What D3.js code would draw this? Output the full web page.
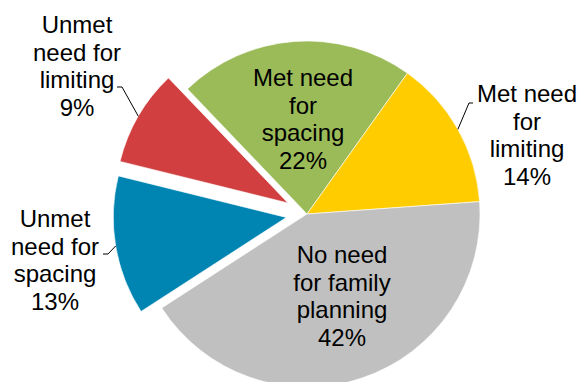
<!DOCTYPE html>
<html><head><meta charset="utf-8">
<script src="https://cdn.jsdelivr.net/npm/d3@7"></script>
<style>html,body{margin:0;padding:0;background:#fff;overflow:hidden}</style>
</head><body>
<svg id="chart" width="579" height="382"></svg>
<script>
// Data (clockwise from the top-left boundary)
const categories = ["Met need for spacing", "Met need for limiting", "No need for family planning", "Unmet need for spacing", "Unmet need for limiting"];
const values = [22, 14, 42, 13, 9];
const labelLines = [
  ["Met need", "for", "spacing", "22%"],
  ["Met need", "for", "limiting", "14%"],
  ["No need", "for family", "planning", "42%"],
  ["Unmet", "need for", "spacing", "13%"],
  ["Unmet", "need for", "limiting", "9%"]
];
const colors = ["#9BBB59", "#FFCC00", "#C0C0C0", "#0085B2", "#D13F40"];

// Layout
const cx = 307, cy = 214, R = 173;
const explode = [0, 0, 0, 21, 22];
const startDeg = -43.7;
const fontSize = 24, lineH = 27.5;
// label anchor (center x, first baseline), leader elbow offsets
const labelPos = [
  {x: 303, y: 86},
  {x: 527, y: 102, elbow: [469, 103], end: [473, 103]},
  {x: 342, y: 263},
  {x: 55, y: 227, elbow: [108, 254], end: [103, 254]},
  {x: 77, y: 33, elbow: [122, 87], end: [117, 87]}
];

const svg = d3.select("#chart");
const pie = d3.pie().sort(null).value(d => d)
  .startAngle(startDeg * Math.PI / 180)
  .endAngle(startDeg * Math.PI / 180 + 2 * Math.PI);
const arcs = pie(values);
const arc = d3.arc().innerRadius(0).outerRadius(R);

const g = svg.append("g").attr("transform", `translate(${cx},${cy})`);
arcs.forEach((a, i) => {
  const mid = (a.startAngle + a.endAngle) / 2;
  const ox = Math.sin(mid) * explode[i], oy = -Math.cos(mid) * explode[i];
  g.append("path")
    .attr("d", arc(a))
    .attr("transform", `translate(${ox},${oy})`)
    .attr("fill", colors[i])
    .attr("stroke", "#fff")
    .attr("stroke-width", 0.6);
  const lp = labelPos[i];
  if (lp.elbow) {
    const px = cx + ox + Math.sin(mid) * R, py = cy + oy - Math.cos(mid) * R;
    svg.append("polyline")
      .attr("points", [[px, py], lp.elbow, lp.end].map(p => p.join(",")).join(" "))
      .attr("fill", "none").attr("stroke", "#000").attr("stroke-width", 1);
  }
  const t = svg.append("text")
    .attr("text-anchor", "middle")
    .attr("font-family", "Liberation Sans, Arial, sans-serif")
    .attr("font-size", fontSize)
    .attr("fill", "#000");
  labelLines[i].forEach((ln, k) => {
    t.append("tspan").attr("x", lp.x).attr("y", lp.y + k * lineH).text(ln);
  });
});
</script>
</body></html>
